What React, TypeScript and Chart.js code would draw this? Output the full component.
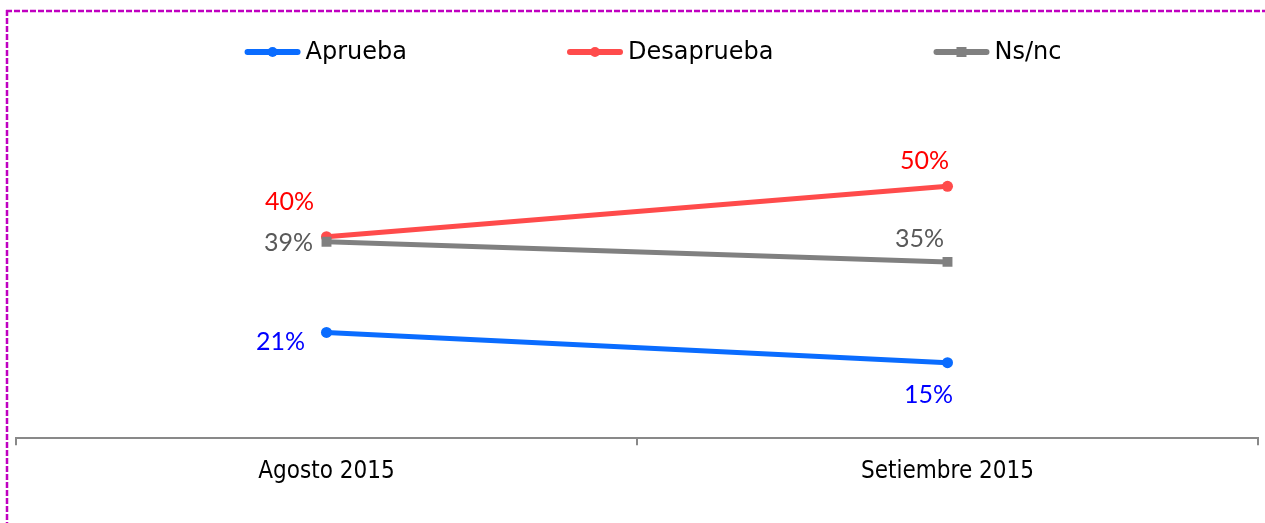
import React, { useEffect, useRef } from "react";
import { Chart, registerables } from "chart.js";

Chart.register(...registerables);

const categories = ["Agosto 2015", "Setiembre 2015"];
const seriesNames = ["Aprueba", "Desaprueba", "Ns/nc"];
const aprueba = [21, 15];
const desaprueba = [40, 50];
const nsnc = [39, 35];

const lineColors = ["#0A6CFF", "#FF4B4B", "#808080"];
const labelColors = ["#0000FF", "#FF0000", "#595959"];
const pointStyles = ["circle", "circle", "rect"];
const pointRadii = [5.5, 5.5, 7];
// label offsets (dx, dy) relative to each point, per series per category
const labelOffsets = [
  [[-46, 10], [-19, 32]],
  [[-37, -35], [-23, -25]],
  [[-38, 1], [-28, -23]],
];

const LABEL_FONT = "25px Lato";
const LEGEND_FONT = "24px 'DejaVu Sans'";

const framePlugin = {
  id: "frame",
  beforeDraw(chart: any) {
    const ctx = chart.ctx;
    ctx.save();
    ctx.fillStyle = "#FFFFFF";
    ctx.fillRect(0, 0, chart.width, chart.height);
    ctx.strokeStyle = "#C000C0";
    ctx.lineWidth = 2.5;
    ctx.setLineDash([6, 2]);
    ctx.beginPath();
    ctx.moveTo(6, 11);
    ctx.lineTo(chart.width, 11);
    ctx.moveTo(7, 10);
    ctx.lineTo(7, chart.height);
    ctx.stroke();
    ctx.restore();
  },
};

const labelsPlugin = {
  id: "valueLabels",
  afterDatasetsDraw(chart: any) {
    const ctx = chart.ctx;
    ctx.save();
    ctx.font = LABEL_FONT;
    ctx.textAlign = "center";
    ctx.textBaseline = "middle";
    chart.data.datasets.forEach((ds: any, i: number) => {
      const meta = chart.getDatasetMeta(i);
      meta.data.forEach((pt: any, j: number) => {
        const [dx, dy] = labelOffsets[i][j];
        ctx.fillStyle = labelColors[i];
        ctx.fillText(ds.data[j] + "%", pt.x + dx, pt.y + dy);
      });
    });
    ctx.restore();
  },
};

const legendPlugin = {
  id: "customLegend",
  afterDraw(chart: any) {
    const ctx = chart.ctx;
    ctx.save();
    ctx.font = LEGEND_FONT;
    const lineW = 56;
    const gap = 5;
    const itemGap = 160;
    const widths = seriesNames.map((n) => ctx.measureText(n).width);
    const total = widths.reduce((a, w) => a + lineW + gap + w, 0) + itemGap * (seriesNames.length - 1);
    let x = 653 - total / 2;
    const y = 52;
    seriesNames.forEach((n, i) => {
      ctx.strokeStyle = lineColors[i];
      ctx.lineWidth = 6;
      ctx.lineCap = "round";
      ctx.beginPath();
      ctx.moveTo(x + 3, y);
      ctx.lineTo(x + lineW - 3, y);
      ctx.stroke();
      ctx.fillStyle = lineColors[i];
      const cx = x + lineW / 2;
      if (pointStyles[i] === "circle") {
        ctx.beginPath();
        ctx.arc(cx, y, 5, 0, Math.PI * 2);
        ctx.fill();
      } else {
        ctx.fillRect(cx - 5, y - 5, 10, 10);
      }
      ctx.fillStyle = "#000000";
      ctx.textAlign = "left";
      ctx.textBaseline = "middle";
      ctx.fillText(n, x + lineW + gap, y + 1);
      x += lineW + gap + widths[i] + itemGap;
    });
    ctx.restore();
  },
};

export default function App() {
  const ref = useRef<HTMLCanvasElement>(null);
  useEffect(() => {
    document.body.style.margin = "0";
    const values = [aprueba, desaprueba, nsnc];
    const chart = new Chart(ref.current as HTMLCanvasElement, {
      type: "line",
      data: {
        labels: categories,
        datasets: seriesNames.map((name, i) => ({
          label: name,
          data: values[i],
          borderColor: lineColors[i],
          backgroundColor: lineColors[i],
          borderWidth: 5,
          pointStyle: pointStyles[i] as any,
          pointRadius: pointRadii[i],
          pointHoverRadius: pointRadii[i],
          pointBorderWidth: 0,
          order: i === 2 ? 0 : 1,
          fill: false,
        })),
      },
      options: {
        animation: false,
        responsive: true,
        maintainAspectRatio: false,
        layout: { padding: { top: 136, left: 16, right: 0, bottom: 25 } },
        plugins: {
          legend: { display: false },
          tooltip: { enabled: false },
        },
        scales: {
          x: {
            offset: true,
            grid: {
              offset: true,
              drawOnChartArea: false,
              drawTicks: true,
              tickLength: 7,
              color: "#898989",
              lineWidth: 2,
            },
            border: { display: true, color: "#898989", width: 2 },
            ticks: {
              color: "#000000",
              font: { family: "'DejaVu Sans Condensed'", size: 24, lineHeight: 1.2 },
              padding: 12,
            },
          },
          y: {
            display: false,
            min: 0,
            max: 60,
          },
        },
      },
      plugins: [framePlugin, labelsPlugin, legendPlugin],
    });
    return () => chart.destroy();
  }, []);
  return (
    <div style={{ width: "1265px", height: "523px", position: "relative" }}>
      <canvas ref={ref} />
    </div>
  );
}
